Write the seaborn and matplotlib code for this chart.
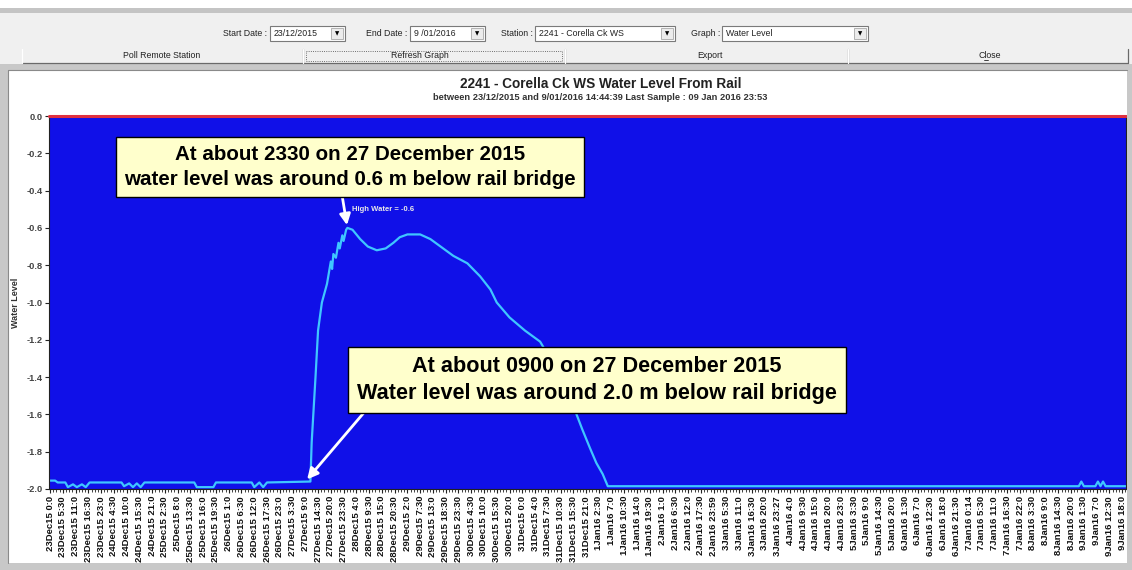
import numpy as np
import matplotlib
matplotlib.use('Agg')
import matplotlib.pyplot as plt
from matplotlib.patches import Rectangle
from matplotlib.ticker import MultipleLocator
import seaborn as sns

# x axis labels, one per tick (the logger puts a tick every few samples)
tick_labels = [
    '23Dec15 0:0', '23Dec15 5:30', '23Dec15 11:0', '23Dec15 16:30', '23Dec15 23:0',
    '24Dec15 4:30', '24Dec15 10:0', '24Dec15 15:30', '24Dec15 21:0', '25Dec15 2:30',
    '25Dec15 8:0', '25Dec15 13:30', '25Dec15 16:0', '25Dec15 19:30', '26Dec15 1:0',
    '26Dec15 6:30', '26Dec15 12:0', '26Dec15 17:30', '26Dec15 23:0', '27Dec15 3:30',
    '27Dec15 9:0', '27Dec15 14:30', '27Dec15 20:0', '27Dec15 23:30', '28Dec15 4:0',
    '28Dec15 9:30', '28Dec15 15:0', '28Dec15 20:30', '29Dec15 2:0', '29Dec15 7:30',
    '29Dec15 13:0', '29Dec15 18:30', '29Dec15 23:30', '30Dec15 4:30', '30Dec15 10:0',
    '30Dec15 15:30', '30Dec15 20:0', '31Dec15 0:0', '31Dec15 4:0', '31Dec15 7:30',
    '31Dec15 10:30', '31Dec15 15:30', '31Dec15 21:0', '1Jan16 2:30', '1Jan16 7:0',
    '1Jan16 10:30', '1Jan16 14:0', '1Jan16 19:30', '2Jan16 1:0', '2Jan16 6:30',
    '2Jan16 12:0', '2Jan16 17:30', '2Jan16 23:59', '3Jan16 5:30', '3Jan16 11:0',
    '3Jan16 16:30', '3Jan16 20:0', '3Jan16 23:27', '4Jan16 4:0', '4Jan16 9:30',
    '4Jan16 15:0', '4Jan16 20:0', '4Jan16 23:0', '5Jan16 3:30', '5Jan16 9:0',
    '5Jan16 14:30', '5Jan16 20:0', '6Jan16 1:30', '6Jan16 7:0', '6Jan16 12:30',
    '6Jan16 18:0', '6Jan16 21:30', '7Jan16 0:14', '7Jan16 5:30', '7Jan16 11:0',
    '7Jan16 16:30', '7Jan16 22:0', '8Jan16 3:30', '8Jan16 9:0', '8Jan16 14:30',
    '8Jan16 20:0', '9Jan16 1:30', '9Jan16 7:0', '9Jan16 12:30', '9Jan16 18:0',
]

# water level readings (position on the tick scale, metres from rail)
sample_pos = [
    0.0, 0.4, 0.6, 1.2, 1.4, 1.8, 2.1, 2.5, 2.8, 3.1,
    5.6, 5.8, 6.2, 6.5, 6.8, 7.1, 7.4,
    11.3, 11.5, 12.8, 13.0,
    15.8, 16.0, 16.4, 16.7, 17.0,
    20.4, 20.5, 20.8, 21.0, 21.3, 21.7, 21.9, 22.0, 22.1, 22.2, 22.4,
    22.6, 22.7, 22.9, 23.0, 23.2, 23.3,
    23.7, 24.3, 24.9, 25.6, 26.3, 26.9, 27.4, 28.0, 29.0, 29.8, 30.6,
    31.6, 32.7, 33.7, 34.5, 35.0, 36.0, 37.2, 38.4, 39.6, 40.8, 41.7,
    42.3, 42.8, 43.3, 43.7,
    80.6, 80.8, 81.0, 81.2, 81.9, 82.1, 82.3, 82.5, 82.7, 82.9, 84.3,
]
water_level = [
    -1.955, -1.955, -1.965, -1.965, -1.99, -1.975, -1.99, -1.975, -1.99, -1.965,
    -1.965, -1.985, -1.97, -1.99, -1.97, -1.99, -1.965,
    -1.965, -1.99, -1.99, -1.965,
    -1.965, -1.99, -1.965, -1.99, -1.965,
    -1.96, -1.75, -1.4, -1.15, -1.0, -0.9, -0.82, -0.78, -0.82, -0.74, -0.76,
    -0.68, -0.71, -0.64, -0.67, -0.61, -0.60,
    -0.61, -0.66, -0.70, -0.72, -0.71, -0.68, -0.65, -0.635, -0.635, -0.66, -0.70,
    -0.75, -0.79, -0.86, -0.93, -1.0, -1.08, -1.15, -1.21, -1.35, -1.52, -1.68,
    -1.78, -1.86, -1.92, -1.985,
    -1.985, -1.96, -1.985, -1.985, -1.985, -1.96, -1.985, -1.96, -1.985, -1.985, -1.985,
]

y_ticks = [0.0, -0.2, -0.4, -0.6, -0.8, -1.0, -1.2, -1.4, -1.6, -1.8, -2.0]

title = '2241 - Corella Ck WS Water Level From Rail'
subtitle = 'between 23/12/2015 and 9/01/2016 14:44:39 Last Sample : 09 Jan 2016 23:53'
note_peak = 'At about 2330 on 27 December 2015\nwater level was around 0.6 m below rail bridge'
note_low = 'At about 0900 on 27 December 2015\nWater level was around 2.0 m below rail bridge'
peak_pos, peak_level = 23.3, -0.60
low_pos, low_level = 20.0, -1.96

sns.set_theme(style='white')
plt.rcParams['font.family'] = ['Liberation Sans', 'DejaVu Sans']

W, H = 1132, 570
fig = plt.figure(figsize=(W / 100, H / 100), dpi=100)
fig.patch.set_facecolor('white')

# plot area in pixel terms: x 49..1126, y 116..489
ax = fig.add_axes([49 / W, 1 - 489 / H, (1126 - 49) / W, (489 - 116) / H])
ax.set_facecolor('#1010e8')

sns.lineplot(x=sample_pos, y=water_level, ax=ax, color='#3fc6ff', lw=1.6,
             estimator=None, sort=False)
ax.axhline(0.0, color='#e03040', lw=2.2, zorder=5, clip_on=False)

ax.set_xlim(-0.08, 84.3)
ax.set_ylim(-2.0, 0.0)
ax.set_xticks(range(len(tick_labels)))
ax.set_xticklabels(tick_labels, rotation=90, fontsize=6.8, fontweight='bold', color='#111111')
ax.xaxis.set_minor_locator(MultipleLocator(0.25))
ax.set_yticks(y_ticks)
ax.set_yticklabels([f'{v:.1f}' if v != 0 else '0.0' for v in y_ticks],
                   fontsize=6.7, fontweight='bold', color='#444444')
ax.tick_params(axis='x', which='major', length=3, width=0.8, color='#222222', pad=2, bottom=True)
ax.tick_params(axis='x', which='minor', length=2, width=0.6, color='#222222', bottom=True)
ax.tick_params(axis='y', length=3, width=0.8, color='#222222', pad=1.5, left=True)
ax.set_xlabel('')
ax.set_ylabel('')
for s in ax.spines.values():
    s.set_color('#222222')
    s.set_linewidth(0.8)

fig.text(15 / W, 1 - 303 / H, 'Water Level', rotation=90, ha='center', va='center',
         fontsize=6.5, fontweight='bold', color='#333333')

ax.annotate('High Water = -0.6', xy=(peak_pos, peak_level), xytext=(3, 12),
            textcoords='offset points', fontsize=5.5, fontweight='bold', color='#e8e8e8')

box = dict(boxstyle='square,pad=0.42', fc='#ffffcc', ec='black', lw=1.0)
ax.annotate(note_peak, xy=(peak_pos, peak_level), xytext=(350, H - 167),
            textcoords='figure pixels', ha='center', va='center', multialignment='center',
            fontsize=14.8, fontweight='bold', color='black', linespacing=1.35, bbox=box,
            arrowprops=dict(arrowstyle='-|>', color='white', lw=2, mutation_scale=16,
                            relpos=(0.48, 0.0), shrinkA=0, shrinkB=2), zorder=20)
ax.annotate(note_low, xy=(low_pos, low_level), xytext=(597, H - 380),
            textcoords='figure pixels', ha='center', va='center', multialignment='center',
            fontsize=15.6, fontweight='bold', color='black', linespacing=1.35, bbox=box,
            arrowprops=dict(arrowstyle='-|>', color='white', lw=2, mutation_scale=16,
                            relpos=(0.03, 0.0), shrinkA=0, shrinkB=2), zorder=20)

fig.text(601 / W, 1 - 84 / H, title, ha='center', va='center', fontsize=9.8, fontweight='bold', color='#222222')
fig.text(600 / W, 1 - 97.5 / H, subtitle, ha='center', va='center', fontsize=6.7, fontweight='bold', color='#333333')

# window chrome around the graph (pixel space overlay)
ui = fig.add_axes([0, 0, 1, 1], zorder=10)
ui.set_xlim(0, W)
ui.set_ylim(H, 0)
ui.axis('off')
ui.patch.set_alpha(0)

def rect(x, y, w, h, fc, ec='none', lw=0.8, ls='-'):
    ui.add_patch(Rectangle((x, y), w, h, fc=fc, ec=ec, lw=lw, ls=ls))

rect(0, 8, W, 5, '#c4c4c4')
rect(0, 13, W, 53, '#f0f0f0')
rect(0, 64, W, 6, '#c8c8c8')
rect(0, 70, 8, H - 70, '#c8c8c8')
rect(W - 5, 70, 5, H - 70, '#c8c8c8')
rect(0, H - 7, W, 7, '#c8c8c8')
ui.plot([8, 8], [70, H - 7], color='#8a8a8a', lw=0.8)
ui.plot([8, W - 5], [70, 70], color='#8a8a8a', lw=0.8)

ui_font = dict(fontsize=6.3, color='#222222', va='center')
combos = [
    ('Start Date :', 267, 270, 75, '23/12/2015'),
    ('End Date :', 407, 410, 75, '9 /01/2016'),
    ('Station :', 533, 535, 140, '2241 - Corella Ck WS'),
    ('Graph :', 720, 722, 146, 'Water Level'),
]
for label, lx, bx, bw, value in combos:
    ui.text(lx, 33, label, ha='right', **ui_font)
    rect(bx, 26, bw, 15, 'white', ec='#7a7a7a')
    ui.text(bx + 4, 33.5, value, ha='left', **ui_font)
    rect(bx + bw - 14, 28, 12, 11, '#ececec', ec='#a8a8a8', lw=0.6)
    ui.text(bx + bw - 8, 33.5, '\u25bc', ha='center', fontsize=4, color='black', va='center',
            family='DejaVu Sans')

buttons = [('Poll Remote Station', 22, 303, 162), ('Refresh Graph', 303, 565, 420),
           ('Export', 565, 848, 710), ('Close', 848, 1128, 990)]
for name, x0, x1, tx in buttons:
    ui.plot([x0, x1], [62.5, 62.5], color='#6a6a6a', lw=0.9)
    ui.plot([x1, x1], [49, 62.5], color='#6a6a6a', lw=0.9)
    ui.plot([x0, x0], [49, 62.5], color='#ffffff', lw=0.9)
    ui.text(tx, 56, name, ha='center', **ui_font)
rect(306, 50.5, 256, 10, 'none', ec='#444444', lw=0.6, ls=':')
ui.plot([983.5, 987.5], [60, 60], color='#222222', lw=0.6)

plt.savefig('out.png', dpi=100)
